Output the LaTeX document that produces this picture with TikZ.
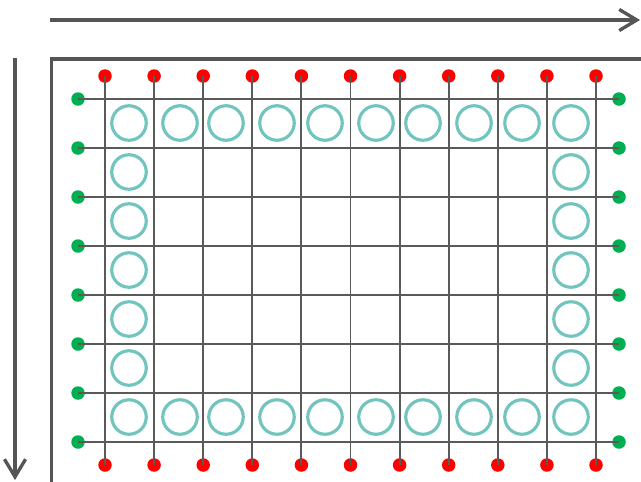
\documentclass[tikz,border=0pt]{standalone}
\usepackage{xcolor}
\usetikzlibrary{arrows.meta}

\definecolor{axisgray}{HTML}{555555}
\definecolor{gridgray}{HTML}{5A5A5A}
\definecolor{ringteal}{HTML}{72C5BF}
\definecolor{dotred}{HTML}{FF0000}
\definecolor{dotgreen}{HTML}{00B050}

\begin{document}
\begin{tikzpicture}[
        x=0.02cm, y=-0.02cm,
        axis/.style={draw=axisgray, line width=1.9pt,
            -{Straight Barb[length=10pt, width=12pt, line width=1.9pt]}},
        frame/.style={draw=axisgray, line width=1.9pt},
        gridline/.style={draw=gridgray, line width=1.1pt},
        reddot/.style={circle, fill=dotred, inner sep=0pt, minimum size=0.27cm},
        greendot/.style={circle, fill=dotgreen, inner sep=0pt, minimum size=0.27cm},
        ring/.style={circle, draw=ringteal, line width=1.8pt, inner sep=0pt, minimum size=0.69cm}
    ]
    \useasboundingbox (0,0) rectangle (641,481);

    % Axes
    \coordinate (xfrom) at (50,20);
    \coordinate (xto) at (640,20);
    \coordinate (yfrom) at (15,58);
    \coordinate (yto) at (15,480);
    \draw[axis] (xfrom) -- (xto);
    \draw[axis] (yfrom) -- (yto);

    % Frame (runs off the right and bottom edges)
    \coordinate (fbl) at (51.5,485);
    \coordinate (ftl) at (51.5,59);
    \coordinate (ftr) at (645,59);
    \draw[frame] (fbl) -- (ftl) -- (ftr);

    % Red dots on top and bottom
    \foreach \i in {1,...,11} {
        \node[reddot] (t\i) at ({105+49.1*(\i-1)},76) {};
        \node[reddot] (b\i) at ({105+49.1*(\i-1)},465) {};
    }
    % Green dots on left and right
    \foreach \j in {1,...,8} {
        \node[greendot] (l\j) at (78,{99+49*(\j-1)}) {};
        \node[greendot] (r\j) at (619,{99+49*(\j-1)}) {};
    }

    % Grid lines
    \foreach \i in {1,...,11}
        \draw[gridline] (t\i.center) -- (b\i.center);
    \foreach \j in {1,...,8}
        \draw[gridline] (l\j.center) -- (r\j.center);

    % Rings along the border cells
    \foreach \cx [count=\k] in {129,180,226,277,325,376,423,474,522,571} {
        \node[ring] (top\k) at (\cx,123) {};
        \node[ring] (bot\k) at (\cx,417) {};
    }
    \foreach \cy [count=\k] in {172,221,270,319,368} {
        \node[ring] (lft\k) at (129,\cy) {};
        \node[ring] (rgt\k) at (571,\cy) {};
    }

\end{tikzpicture}
\end{document}
